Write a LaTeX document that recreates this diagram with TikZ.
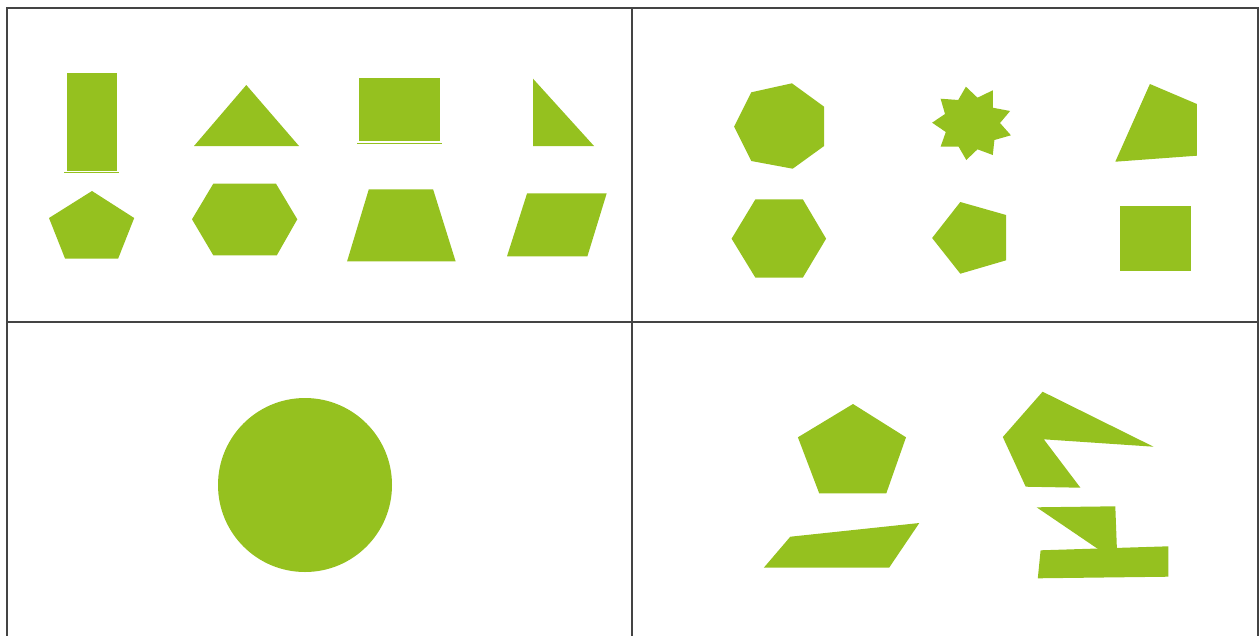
\documentclass[tikz,border=0pt]{standalone}
\definecolor{shapegreen}{RGB}{149,193,31}
\definecolor{gridgray}{RGB}{68,68,68}
\tikzset{
  greenshape/.style={fill=shapegreen, draw=none},
  gridline/.style={draw=gridgray, line width=2pt},
  underline/.style={draw=shapegreen, line width=0.8pt}
}
\begin{document}
\begin{tikzpicture}[x=1pt,y=-1pt]
\useasboundingbox (0,0) rectangle (1260,635);
% grid
\draw[gridline] (7,640) -- (7,8) -- (1258,8) -- (1258,640);
\draw[gridline] (632,8) -- (632,640);
\draw[gridline] (7,322) -- (1258,322);

% ---- top left panel ----
\fill[greenshape] (66.5,73) rectangle (116.5,170.5);
\draw[underline] (64,172.5) -- (119,172.5);
\fill[greenshape] (246.3,85) -- (299,146) -- (194,146) -- cycle;
\fill[greenshape] (359.2,77.7) rectangle (440,141.3);
\draw[underline] (357,143.5) -- (442,143.5);
\fill[greenshape] (533,78.7) -- (594,146) -- (533,146) -- cycle;
\fill[greenshape] (92,191) -- (134.2,218) -- (118.1,258.7) -- (65.1,258.7) -- (49,218) -- cycle;
\fill[greenshape] (213.3,183.7) -- (276,183.7) -- (297.3,219.3) -- (276.8,255.3) -- (213.3,255.3) -- (192,219.3) -- cycle;
\fill[greenshape] (368.8,189.3) -- (433.1,189.3) -- (455.6,261.3) -- (347.1,261.3) -- cycle;
\fill[greenshape] (527.1,193.3) -- (606.7,193.3) -- (587.4,256.3) -- (507,256.3) -- cycle;

% ---- top right panel ----
\fill[greenshape] (751.3,92.3) -- (791.9,83.3) -- (824.1,106.7) -- (824.1,146) -- (792.7,168.7) -- (751.3,161) -- (734.1,126.7) -- cycle;
\fill[greenshape] (965.9,86.7) -- (977.5,97.7) -- (992.8,90.3) -- (992.8,107.7) -- (1010.1,111) -- (1000,123) -- (1010.9,135.3) -- (994.4,140) -- (992.8,155) -- (977.5,149.3) -- (966.3,160) -- (958.6,146.7) -- (940.6,146.7) -- (945.8,132) -- (932.1,122.7) -- (945,114) -- (940.6,98.7) -- (958.2,100) -- cycle;
\fill[greenshape] (1149.9,84) -- (1196.9,104) -- (1196.9,155.7) -- (1115.3,161.7) -- cycle;
\fill[greenshape] (755.4,199.3) -- (802.8,199.3) -- (826.1,238.7) -- (802.8,277.7) -- (755.4,277.7) -- (731.6,238.7) -- cycle;
\fill[greenshape] (960.3,202) -- (1006.1,215) -- (1006.1,260.3) -- (960.3,273.7) -- (932.1,238) -- cycle;
\fill[greenshape] (1120.2,206.3) rectangle (1190.9,271);

% ---- bottom left panel ----
\fill[greenshape] (305,485) circle[radius=87];

% ---- bottom right panel ----
\fill[greenshape] (853,404) -- (906,437.3) -- (886.3,493.3) -- (819.2,493.3) -- (797.9,437.3) -- cycle;
\fill[greenshape] (790.3,536.7) -- (919.3,523) -- (889.1,567.7) -- (763.8,567.7) -- cycle;
\fill[greenshape] (1042.6,391.7) -- (1153.5,446.7) -- (1043.8,439.3) -- (1080.4,487.7) -- (1025.7,486.7) -- (1002.8,437) -- cycle;
\fill[greenshape] (1036.6,507.3) -- (1115.3,506.3) -- (1116.9,549) -- (1098,549) -- cycle;
\fill[greenshape] (1040.6,550.3) -- (1168.4,546.3) -- (1168.4,576.7) -- (1037.8,578.3) -- cycle;
\end{tikzpicture}
\end{document}
